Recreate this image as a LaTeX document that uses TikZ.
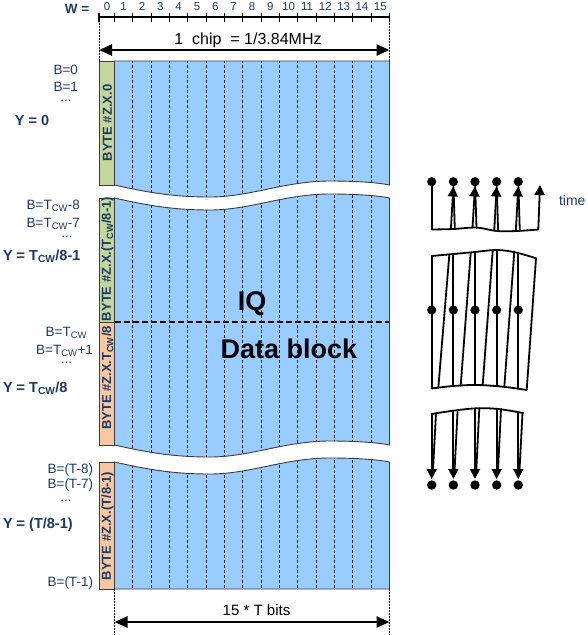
\documentclass[tikz,border=0pt]{standalone}
\usepackage{fontspec}
\setmainfont{Liberation Sans}
\usetikzlibrary{arrows.meta}
\definecolor{bluefill}{RGB}{153,204,255}
\definecolor{greenfill}{RGB}{195,214,155}
\definecolor{orangefill}{RGB}{250,200,160}
\definecolor{navy}{RGB}{27,58,102}
\definecolor{edgec}{RGB}{60,60,60}
\definecolor{dashc}{RGB}{20,30,50}
\newcommand\myfs[1]{\fontsize{#1}{#1}\selectfont}
\newcommand\waveLR[1]{.. controls (150,#1+8) and (175,#1+12) .. (210,#1+12) .. controls (250,#1+12) and (285,#1-4) .. (330,#1-4) .. controls (360,#1-4) and (380,#1-2) .. (389.5,#1)}
\newcommand\waveRL[1]{.. controls (380,#1-2) and (360,#1-4) .. (330,#1-4) .. controls (285,#1-4) and (250,#1+12) .. (210,#1+12) .. controls (175,#1+12) and (150,#1+8) .. (114.5,#1)}
\newcommand\shapeA{(114.5,61) -- (389.5,61) -- (389.5,185) \waveRL{185} -- cycle}
\newcommand\shapeB{(114.5,198) \waveLR{198} -- (389.5,445) \waveRL{445} -- cycle}
\newcommand\shapeC{(114.5,462) \waveLR{462} -- (389.5,589) -- (114.5,589) -- cycle}
\begin{document}
\begin{tikzpicture}[x=1pt,y=-1pt,
  every node/.style={inner sep=0pt, outer sep=0pt},
  lbl/.style={text=navy, font=\myfs{13.5}},
  ylbl/.style={text=navy, font=\myfs{14.5}\bfseries},
  bytelbl/.style={text=navy, font=\myfs{13}\bfseries, rotate=90},
  numlbl/.style={text=navy, font=\myfs{11.5}},
  blk/.style={draw=edgec, line width=0.9pt},
  dashv/.style={draw=dashc, line width=1.2pt, dash pattern=on 3pt off 2pt},
  hdash/.style={draw=black, line width=2.2pt, dash pattern=on 6pt off 3pt},
  guide/.style={draw=black, line width=1pt, dash pattern=on 1.5pt off 1.5pt},
  ruler/.style={draw=black, line width=1.3pt},
  dimarrow/.style={line width=2.5pt, {Triangle[length=13pt,width=11pt]}-{Triangle[length=13pt,width=11pt]}},
  tl/.style={line width=1.8pt, line cap=round, line join=round},
  tarr/.style={line width=1.8pt, -{Triangle[length=10pt,width=10pt]}}
]
\useasboundingbox (0,0) rectangle (587,635);

% ---------- ruler ----------
\node[text=navy, font=\myfs{13.5}\bfseries, anchor=base] (wlbl) at (77,13) {W =};
\draw[ruler] (99,17) -- (389.5,17);
\draw[ruler] (99,12.7) -- ++(0,9);
\foreach \k in {0,...,15} \draw[ruler] ({114.5+18.333*\k},12.7) -- ++(0,9);
\node[numlbl, anchor=base] (w0) at (107,10) {0};
\foreach \i in {1,...,15} \node[numlbl, anchor=base] (w\i) at ({114.5+18.333*(\i-0.5)},10) {\i};

% ---------- chip dimension ----------
\coordinate (gTL) at (99,17);
\coordinate (gTLb) at (99,61);
\coordinate (gTR) at (389.5,17);
\coordinate (gTRb) at (389.5,61);
\draw[guide] (gTL) -- (gTLb);
\draw[guide] (gTR) -- (gTRb);
\coordinate (chipL) at (99,50);
\coordinate (chipR) at (389.5,50);
\draw[dimarrow] (chipL) -- (chipR);
\node[font=\myfs{16}, anchor=base] (chiplbl) at (248,44) {1\ \ chip\ \ = 1/3.84MHz};

% ---------- blue data areas ----------
\fill[bluefill] \shapeA \shapeB \shapeC;
\begin{scope}
  \clip \shapeA \shapeB \shapeC;
  \foreach \k in {1,...,14} \draw[dashv] ({114.5+18.333*\k},55) -- ({114.5+18.333*\k},595);
\end{scope}
\draw[hdash] (114.5,322) -- (389.5,322);
\draw[blk] \shapeA \shapeB \shapeC;

% ---------- byte columns ----------
\draw[blk, fill=greenfill] (99,61) rectangle (114.5,185);
\draw[blk, fill=greenfill] (99,198) rectangle (114.5,322);
\draw[blk, fill=orangefill] (99,322) rectangle (114.5,445);
\draw[blk, fill=orangefill] (99,462) rectangle (114.5,589);
\node[bytelbl] (byteA) at (107.5,123) {BYTE \#Z.X.0};
\node[bytelbl] (byteB) at (107.5,259) {BYTE \#Z.X.(T\textsubscript{CW}/8-1)};
\node[bytelbl] (byteC) at (107.5,378) {BYTE \#Z.X.T\textsubscript{CW}/8};
\node[bytelbl] (byteD) at (107.5,526) {BYTE \#Z.X.(T/8-1)};

% ---------- centre text ----------
\node[font=\myfs{27}\bfseries, anchor=base] (iq) at (252,310) {IQ};
\node[font=\myfs{27}\bfseries, anchor=base] (db) at (289,358) {Data block};

% ---------- left labels ----------
\node[lbl, anchor=base east] (b0) at (78,74) {B=0};
\node[lbl, anchor=base east] (b1) at (78,91) {B=1};
\node[lbl, anchor=base] (d1) at (66,101.5) {...};
\node[ylbl, anchor=base west] (y0) at (15,125) {Y = 0};

\node[lbl, anchor=base east] (b2) at (80,209.5) {B=T\textsubscript{CW}-8};
\node[lbl, anchor=base east] (b3) at (80,227) {B=T\textsubscript{CW}-7};
\node[lbl, anchor=base] (d2) at (67,237) {...};
\node[ylbl, anchor=base west] (y1) at (3,260.5) {Y = T\textsubscript{CW}/8-1};

\node[lbl, anchor=base east] (b4) at (87,336) {B=T\textsubscript{CW}};
\node[lbl, anchor=base east] (b5) at (93,354) {B=T\textsubscript{CW}+1};
\node[lbl, anchor=base] (d3) at (66.5,363) {...};
\node[ylbl, anchor=base west] (y2) at (3,392) {Y = T\textsubscript{CW}/8};

\node[lbl, anchor=base east] (b6) at (93,473) {B=(T-8)};
\node[lbl, anchor=base east] (b7) at (93,488) {B=(T-7)};
\node[lbl, anchor=base] (d4) at (66,501) {...};
\node[ylbl, anchor=base west] (y3) at (3,528.5) {Y = (T/8-1)};
\node[lbl, anchor=base east] (b8) at (93,586.5) {B=(T-1)};

% ---------- bottom dimension ----------
\coordinate (gBL) at (114.5,589);
\coordinate (gBLb) at (114.5,635);
\coordinate (gBR) at (389.5,589);
\coordinate (gBRb) at (389.5,635);
\draw[guide] (gBL) -- (gBLb);
\draw[guide] (gBR) -- (gBRb);
\coordinate (bitL) at (114.5,622);
\coordinate (bitR) at (389.5,622);
\draw[dimarrow] (bitL) -- (bitR);
\node[font=\myfs{15}, anchor=base] (bitlbl) at (256.5,615) {15 * T bits};

% ---------- time diagram: top piece ----------
\draw[tl] plot[smooth, tension=0.6] coordinates {(431.7,229.5) (453.3,229) (476.7,227.6) (496.7,231) (516.7,231) (538.3,229.5)};
\draw[tl] (431.7,181.7) -- (431.7,229.5);
\draw[tl] (453.35,181.7) -- (454.8,229);
\draw[tl] (475,181.7) -- (476.5,227.7);
\draw[tl] (496.65,181.7) -- (498.1,231);
\draw[tl] (518.3,181.7) -- (519.8,231);
\draw[tarr] (450.9,229) -- (453.35,186.5);
\draw[tarr] (472.5,227.8) -- (475,186.5);
\draw[tarr] (494.2,231) -- (496.65,186.5);
\draw[tarr] (515.8,231) -- (518.3,186.5);
\draw[tarr] (538.3,229.5) -- (540,185);
\foreach \x in {431.7,453.35,475,496.65,518.3} \fill (\x,181.7) circle[radius=4.6pt];
\node[text=navy, font=\myfs{14}, anchor=base west] (timelbl) at (559,205) {time};

% ---------- time diagram: middle piece ----------
\draw[tl] plot[smooth, tension=0.6] coordinates {(431.7,256) (453.3,254) (475,252) (496.7,250) (516,252.5) (536,258.3)};
\draw[tl] plot[smooth, tension=0.6] coordinates {(431.7,388.5) (453.3,386) (476.7,385) (503,386.7) (526.7,390)};
\draw[tl] (431.7,256) -- (431.7,388.5);
\draw[tl] (536,258.3) -- (526.7,390);
\draw[tl] (453.35,254) -- (453.35,386);
\draw[tl] (475,252) -- (475,385.2);
\draw[tl] (496.65,250) -- (496.65,386);
\draw[tl] (518.3,252.8) -- (518.3,387.5);
\draw[tl] (438.3,388) -- (449.3,255);
\draw[tl] (460.7,385.6) -- (470.7,253);
\draw[tl] (482.7,385) -- (492.7,251);
\draw[tl] (504.3,387) -- (514.3,251.6);
\foreach \x in {431.7,453.35,475,496.65,518.3} \fill (\x,310) circle[radius=4.6pt];

% ---------- time diagram: bottom piece ----------
\draw[tl] plot[smooth, tension=0.6] coordinates {(431.7,414) (453.3,410.7) (476.7,408.3) (498.3,409) (523,413)};
\draw[tarr] (431.7,414) -- (431.7,479);
\draw[tarr] (453.35,410.7) -- (453.35,479);
\draw[tarr] (475,408.6) -- (475,479);
\draw[tarr] (496.65,408.7) -- (496.65,479);
\draw[tarr] (518.3,411.8) -- (518.3,479);
\draw[tl] (436,413.5) -- (433,470);
\draw[tl] (457.6,410.3) -- (454.6,470);
\draw[tl] (479.3,408.3) -- (476.3,470);
\draw[tl] (501,409) -- (498,470);
\draw[tl] (522.5,412.8) -- (519.5,470);
\foreach \x in {431.7,453.35,475,496.65,518.3} \fill (\x,485) circle[radius=4.7pt];
\end{tikzpicture}
\end{document}
